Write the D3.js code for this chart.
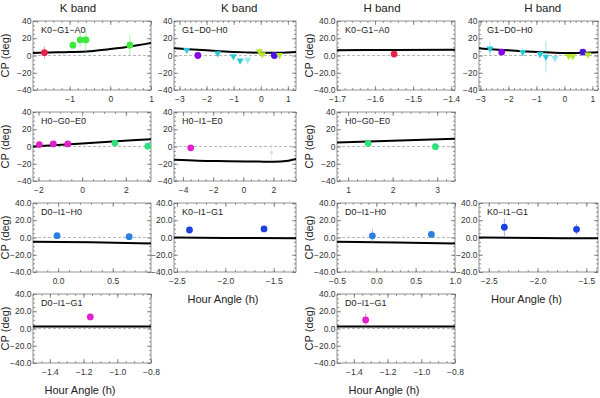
<!DOCTYPE html>
<html>
<head>
<meta charset="utf-8">
<script src="https://cdn.jsdelivr.net/npm/d3@7"></script>
<style>
body { margin: 0; background: #fff; }
text { font-family: "Liberation Sans", Arial, sans-serif; }
</style>
</head>
<body>
<svg id="fig" width="600" height="398"></svg>
<script>
// model curves [hour angle, CP] and measured closure phases (x, y, error, series)
var kKGA_model = [[-1.9, 3], [-1.5, 3.5], [-1, 4], [-0.5, 5], [0, 7.5], [0.5, 10.5], [1, 14.5]];
var kKGA_pts = [
    { x: -1.62, y: 3.3, e: 7, s: "red" },
    { x: -0.92, y: 12, e: 4, s: "green" },
    { x: -0.74, y: 18, e: 8, s: "green" },
    { x: -0.6, y: 18, e: 14, s: "green" },
    { x: 0.48, y: 12, e: 12, s: "green" }
];
var kGDH_model = [[-3.2, 8.5], [-2.5, 7], [-2, 6], [-1.5, 5], [-1, 4.2], [-0.5, 3.6], [0, 3.2], [0.5, 3.2], [1, 3.6], [1.3, 4]];
var kGDH_pts = [
    { x: -2.73, y: 6.4, e: 3, s: "cyan" },
    { x: -2.32, y: 0, e: 2, s: "purple" },
    { x: -1.59, y: 2.5, e: 3, s: "cyan" },
    { x: -1.01, y: -1, e: 3, s: "cyan" },
    { x: -0.76, y: -6, e: 3, s: "cyan" },
    { x: -0.48, y: -5, e: 3, s: "ltcyan" },
    { x: -0.05, y: 5, e: 3, s: "ygreen" },
    { x: 0.06, y: 1.3, e: 2, s: "ygreen" },
    { x: 0.5, y: 0, e: 2, s: "violet" },
    { x: 0.69, y: 0.5, e: 2, s: "ygreen" }
];
var hKGA_model = [[-1.7, 6.2], [-1.55, 6.3], [-1.39, 6.6]];
var hKGA_pts = [{ x: -1.55, y: 1.7, e: 2, s: "red" }];
var hGDH_model = [[-3.05, 8.5], [-2.5, 7], [-2, 6], [-1.5, 5], [-1, 4], [-0.5, 3.5], [0, 3], [0.5, 3], [1, 3.5], [1.2, 3.8]];
var hGDH_pts = [
    { x: -2.66, y: 8, e: 8, s: "cyan" },
    { x: -2.24, y: 4, e: 2, s: "purple" },
    { x: -1.49, y: 4, e: 5, s: "cyan" },
    { x: -0.87, y: 1.7, e: 4, s: "cyan" },
    { x: -0.66, y: -1.5, e: 18, s: "cyan" },
    { x: -0.34, y: -3, e: 3, s: "ltcyan" },
    { x: 0.16, y: -0.6, e: 2, s: "ygreen" },
    { x: 0.3, y: -1, e: 2, s: "ygreen" },
    { x: 0.66, y: 4, e: 2, s: "violet" },
    { x: 0.84, y: 1, e: 2, s: "ygreen" }
];
var kHGE_model = [[-2.25, 0], [0, 3.5], [3.15, 8.5]];
var kHGE_pts = [
    { x: -1.96, y: 2.3, e: 2, s: "magenta" },
    { x: -1.32, y: 3, e: 2, s: "magenta" },
    { x: -0.66, y: 3, e: 2, s: "magenta" },
    { x: 1.5, y: 4, e: 2, s: "emerald" },
    { x: 3.0, y: 0.3, e: 2, s: "emerald" }
];
var kHIE_model = [[-4.6, -15.5], [-3, -16.5], [-1, -17], [1, -17.5], [2, -17.8], [3, -16.5], [3.5, -14.5]];
var kHIE_pts = [
    { x: 1.87, y: -7, e: 10, s: "gray" },
    { x: -3.49, y: -1.5, e: 2, s: "magenta" }
];
var hHGE_model = [[0.75, 4.5], [3.4, 9]];
var hHGE_pts = [
    { x: 1.45, y: 3.5, e: 3, s: "emerald" },
    { x: 2.96, y: -0.2, e: 2, s: "emerald" }
];
var kDIH_model = [[-0.23, -4.8], [0.3, -5.5], [0.85, -7]];
var kDIH_pts = [
    { x: -0.01, y: 2.1, e: 2, s: "blue" },
    { x: 0.65, y: 1, e: 2, s: "blue" }
];
var kKIG_model = [[-2.53, 0], [-2, -0.5], [-1.27, -0.8]];
var kKIG_pts = [
    { x: -2.37, y: 8.7, e: 2, s: "dblue" },
    { x: -1.6, y: 10, e: 2, s: "dblue" }
];
var hDIH_model = [[-0.5, -5], [0.25, -5.8], [1, -7]];
var hDIH_pts = [
    { x: -0.05, y: 2, e: 8, s: "blue" },
    { x: 0.7, y: 3.5, e: 3, s: "blue" }
];
var hKIG_model = [[-2.6, 0], [-2, -0.6], [-1.38, -0.8]];
var hKIG_pts = [
    { x: -2.34, y: 12, e: 10, s: "dblue" },
    { x: -1.6, y: 9.5, e: 6, s: "dblue" }
];
var kDIG_model = [[-1.5, 2.2], [-0.8, 2.2]];
var kDIG_pts = [{ x: -1.16, y: 13.4, e: 2, s: "magenta" }];
var hDIG_model = [[-1.5, 2.2], [-0.8, 2.2]];
var hDIG_pts = [{ x: -1.33, y: 10, e: 8, s: "magenta" }];

var bandTitles = ["K band", "K band", "H band", "H band"];
var yTicks = [-40, -20, 0, 20, 40];

var colors = {
    red: "#e8204a", green: "#3ee83e", purple: "#8a00e6", violet: "#4a12e0",
    cyan: "#2fc8d8", ltcyan: "#93e9f0", ygreen: "#b6e62e", magenta: "#e020c8",
    emerald: "#2fe07e", gray: "#dcdcdc", blue: "#2a80e0", dblue: "#1e40e0"
};
var triSeries = { cyan: 1, ltcyan: 1, ygreen: 1 };

// panel layout
var colX = [33, 174, 337, 479],
    colW = [118, 122, 118, 119],
    rowY = [21, 112, 203, 294],
    rowH = 69;

var panels = [
    { c: 0, r: 0, name: "K0\u2212G1\u2212A0", xd: [-1.9, 1.0], xt: [-1, 0, 1], mn: 0.2, f: "d", model: kKGA_model, pts: kKGA_pts, ylab: true },
    { c: 1, r: 0, name: "G1\u2212D0\u2212H0", xd: [-3.2, 1.3], xt: [-3, -2, -1, 0, 1], mn: 0.2, f: "d", model: kGDH_model, pts: kGDH_pts },
    { c: 2, r: 0, name: "K0\u2212G1\u2212A0", xd: [-1.7, -1.39], xt: [-1.7, -1.6, -1.5, -1.4], mn: 0.02, f: ".1f", model: hKGA_model, pts: hKGA_pts, ylab: true },
    { c: 3, r: 0, name: "G1\u2212D0\u2212H0", xd: [-3.05, 1.2], xt: [-3, -2, -1, 0, 1], mn: 0.2, f: "d", model: hGDH_model, pts: hGDH_pts },
    { c: 0, r: 1, name: "H0\u2212G0\u2212E0", xd: [-2.25, 3.15], xt: [-2, 0, 2], mn: 0.5, f: "d", model: kHGE_model, pts: kHGE_pts, ylab: true },
    { c: 1, r: 1, name: "H0\u2212I1\u2212E0", xd: [-4.6, 3.5], xt: [-4, -2, 0, 2], mn: 0.5, f: "d", model: kHIE_model, pts: kHIE_pts },
    { c: 2, r: 1, name: "H0\u2212G0\u2212E0", xd: [0.75, 3.4], xt: [1, 2, 3], mn: 0.2, f: "d", model: hHGE_model, pts: hHGE_pts, ylab: true },
    { c: 0, r: 2, name: "D0\u2212I1\u2212H0", xd: [-0.23, 0.85], xt: [0, 0.5], mn: 0.1, f: ".1f", model: kDIH_model, pts: kDIH_pts, ylab: true },
    { c: 1, r: 2, name: "K0\u2212I1\u2212G1", xd: [-2.53, -1.27], xt: [-2.5, -2, -1.5], mn: 0.1, f: ".1f", model: kKIG_model, pts: kKIG_pts, xlab: true },
    { c: 2, r: 2, name: "D0\u2212I1\u2212H0", xd: [-0.5, 1.0], xt: [-0.5, 0, 0.5, 1], mn: 0.1, f: ".1f", model: hDIH_model, pts: hDIH_pts, ylab: true },
    { c: 3, r: 2, name: "K0\u2212I1\u2212G1", xd: [-2.6, -1.38], xt: [-2.5, -2, -1.5], mn: 0.1, f: ".1f", model: hKIG_model, pts: hKIG_pts, xlab: true },
    { c: 0, r: 3, name: "D0\u2212I1\u2212G1", xd: [-1.5, -0.8], xt: [-1.4, -1.2, -1.0, -0.8], mn: 0.05, f: ".1f", model: kDIG_model, pts: kDIG_pts, ylab: true, xlab: true },
    { c: 2, r: 3, name: "D0\u2212I1\u2212G1", xd: [-1.5, -0.8], xt: [-1.4, -1.2, -1.0, -0.8], mn: 0.05, f: ".1f", model: hDIG_model, pts: hDIG_pts, ylab: true, xlab: true }
];

var svg = d3.select("#fig");

bandTitles.forEach(function (t, i) {
    svg.append("text")
        .attr("x", colX[i] + colW[i] / 2 - 14 * (i % 2 == 0 ? 1 : -0.3))
        .attr("y", 12)
        .attr("text-anchor", "middle")
        .attr("font-size", 11.5)
        .attr("fill", "#222")
        .text(t);
});

function minorTicks(dom, step) {
    var out = [], a = Math.ceil(dom[0] / step - 1e-6), b = Math.floor(dom[1] / step + 1e-6);
    for (var k = a; k <= b; k++) out.push(+(k * step).toFixed(4));
    return out;
}

panels.forEach(function (p) {
    var left = colX[p.c], top = rowY[p.r], width = colW[p.c], height = rowH;
    var g = svg.append("g").attr("transform", "translate(" + left + "," + top + ")");

    var x = d3.scaleLinear().domain(p.xd).range([0, width]);
    var y = d3.scaleLinear().domain([-40, 40]).range([height, 0]);

    var fmt = d3.format(p.f);
    var tf = function (d) { return fmt(d).replace("-", "\u2212"); };

    // minor ticks all around
    var xm = minorTicks(p.xd, p.mn), ym = minorTicks([-40, 40], 5);
    g.append("g").attr("transform", "translate(0," + height + ")")
        .call(d3.axisBottom(x).tickValues(xm).tickSize(-2).tickSizeOuter(0).tickFormat(""));
    g.append("g")
        .call(d3.axisTop(x).tickValues(xm).tickSize(-2).tickSizeOuter(0).tickFormat(""));
    g.append("g")
        .call(d3.axisLeft(y).tickValues(ym).tickSize(-2).tickSizeOuter(0).tickFormat(""));
    g.append("g").attr("transform", "translate(" + width + ",0)")
        .call(d3.axisRight(y).tickValues(ym).tickSize(-2).tickSizeOuter(0).tickFormat(""));

    // major ticks + labels
    g.append("g").attr("class", "lab").attr("transform", "translate(0," + height + ")")
        .call(d3.axisBottom(x).tickValues(p.xt).tickSize(-4).tickSizeOuter(0).tickPadding(5.5).tickFormat(tf));
    g.append("g")
        .call(d3.axisTop(x).tickValues(p.xt).tickSize(-4).tickSizeOuter(0).tickFormat(""));
    g.append("g").attr("class", "lab")
        .call(d3.axisLeft(y).tickValues(yTicks).tickSize(-4).tickSizeOuter(0).tickPadding(1.5).tickFormat(tf));
    g.append("g").attr("transform", "translate(" + width + ",0)")
        .call(d3.axisRight(y).tickValues(yTicks).tickSize(-4).tickSizeOuter(0).tickFormat(""));

    g.selectAll(".domain").remove();
    g.selectAll(".tick line").attr("stroke", "#666").attr("stroke-width", 0.7);
    g.selectAll(".lab text").attr("font-size", 8.5).attr("fill", "#333")
        .attr("font-family", "\"Liberation Sans\", Arial, sans-serif");

    g.append("rect")
        .attr("width", width).attr("height", height)
        .attr("fill", "none").attr("stroke", "#777").attr("stroke-width", 0.8);

    // zero line
    g.append("line")
        .attr("x1", 0).attr("x2", width)
        .attr("y1", y(0)).attr("y2", y(0))
        .attr("stroke", "#999").attr("stroke-width", 0.7)
        .attr("stroke-dasharray", "3,2");

    var clip = "clip" + p.c + p.r;
    g.append("clipPath").attr("id", clip).append("rect").attr("width", width).attr("height", height);
    var inner = g.append("g").attr("clip-path", "url(#" + clip + ")");

    // model curve
    inner.append("path")
        .datum(p.model)
        .attr("fill", "none")
        .attr("stroke", "#000")
        .attr("stroke-width", 2)
        .attr("d", d3.line().curve(d3.curveMonotoneX)
            .x(function (d) { return x(d[0]); })
            .y(function (d) { return y(d[1]); }));

    // error bars
    inner.selectAll(".err")
        .data(p.pts)
        .enter().append("line")
        .attr("x1", function (d) { return x(d.x); })
        .attr("x2", function (d) { return x(d.x); })
        .attr("y1", function (d) { return y(d.y - d.e); })
        .attr("y2", function (d) { return y(d.y + d.e); })
        .attr("stroke", function (d) { return colors[d.s]; })
        .attr("stroke-opacity", 0.45)
        .attr("stroke-width", 1);

    // points
    inner.selectAll(".pt")
        .data(p.pts)
        .enter().append("path")
        .attr("transform", function (d) { return "translate(" + x(d.x) + "," + y(d.y) + ")" + (triSeries[d.s] ? " rotate(180)" : ""); })
        .attr("d", function (d) {
            if (d.s == "gray") return d3.symbol(d3.symbolCircle, 8)();
            return triSeries[d.s] ? d3.symbol(d3.symbolTriangle, 22)() : d3.symbol(d3.symbolCircle, 36)();
        })
        .attr("fill", function (d) { return colors[d.s]; });

    g.append("text")
        .attr("x", 8).attr("y", 12)
        .attr("font-size", 9)
        .attr("fill", "#222")
        .text(p.name);

    if (p.ylab) {
        svg.append("text")
            .attr("transform", "translate(" + (left - 24) + "," + (top + height / 2) + ") rotate(-90)")
            .attr("text-anchor", "middle")
            .attr("font-size", 11)
            .attr("fill", "#222")
            .text("CP (deg)");
    }
    if (p.xlab) {
        svg.append("text")
            .attr("x", left + width / 2 - 12)
            .attr("y", top + height + 31)
            .attr("text-anchor", "middle")
            .attr("font-size", 11)
            .attr("fill", "#222")
            .text("Hour Angle (h)");
    }
});
</script>
</body>
</html>
